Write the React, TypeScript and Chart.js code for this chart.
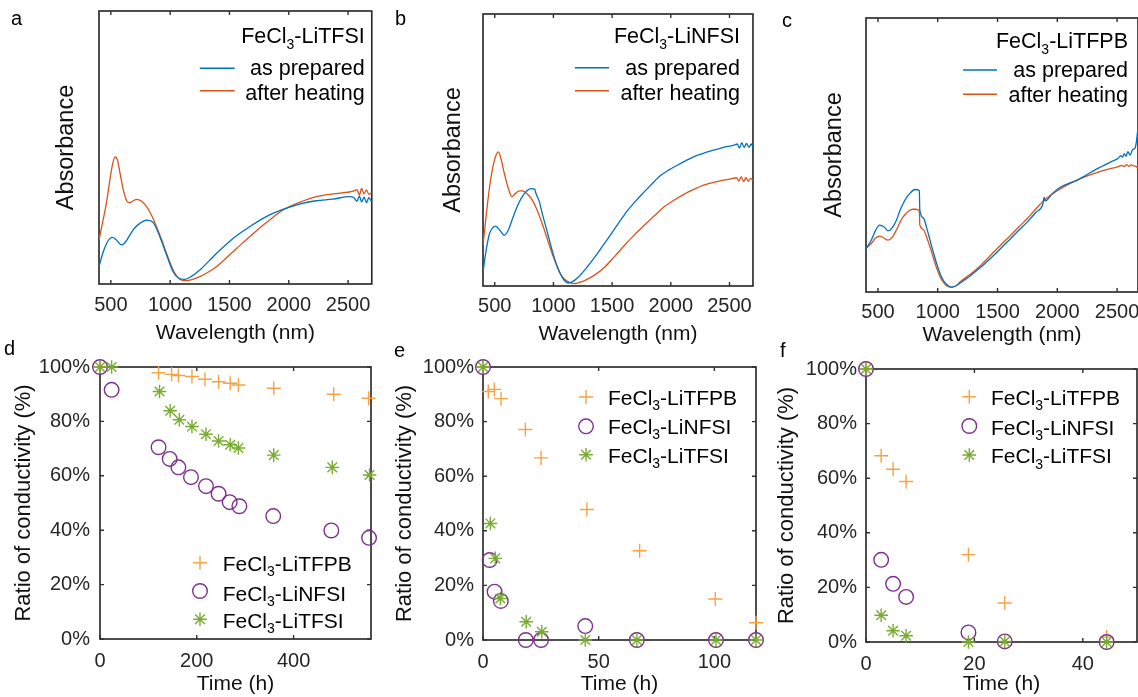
import React, { useEffect, useRef } from "react";
import { Chart, registerables } from "chart.js";
Chart.register(...registerables);

const FONT = '"Liberation Sans", Arial, Helvetica, sans-serif';
Chart.defaults.font.family = FONT;
const AXIS = "#262626";
const BLUE = "#0072BD";
const RED = "#D95319";
const ORANGE = "#F7A244";
const PURPLE = "#7E2F8E";
const GREEN = "#77AC30";

// ---------- tick labels ----------
const wavelengthTicks = [500, 1000, 1500, 2000, 2500];
const percentTicks = [0, 20, 40, 60, 80, 100];
const dTimeTicks = [0, 200, 400];
const eTimeTicks = [0, 50, 100];
const fTimeTicks = [0, 20, 40];

// ---------- panel a : FeCl3-LiTFSI spectra ----------
const aWlPrepared = [400, 430, 465, 495, 515, 545, 591, 620, 661, 700, 745, 801, 857, 913, 970, 1025, 1070, 1124, 1180, 1250, 1390, 1530, 1670, 1811, 1951, 2091, 2232, 2372, 2512, 2550, 2575, 2595, 2615, 2635, 2655, 2675, 2700];
const aAbsPrepared = [0.063, 0.11, 0.149, 0.168, 0.171, 0.162, 0.143, 0.152, 0.18, 0.205, 0.222, 0.234, 0.225, 0.173, 0.106, 0.045, 0.022, 0.017, 0.028, 0.051, 0.112, 0.167, 0.21, 0.247, 0.273, 0.293, 0.305, 0.311, 0.32, 0.316, 0.303, 0.322, 0.301, 0.318, 0.298, 0.316, 0.3];
const aWlHeated = [400, 430, 460, 493, 515, 535, 555, 580, 605, 633, 660, 690, 717, 760, 801, 845, 885, 930, 970, 1025, 1082, 1138, 1190, 1250, 1320, 1390, 1460, 1530, 1600, 1670, 1740, 1811, 1880, 1951, 2091, 2232, 2372, 2512, 2550, 2575, 2595, 2615, 2635, 2655, 2675, 2700];
const aAbsHeated = [0.161, 0.225, 0.29, 0.385, 0.44, 0.466, 0.455, 0.4, 0.345, 0.305, 0.298, 0.305, 0.31, 0.303, 0.283, 0.25, 0.21, 0.16, 0.112, 0.051, 0.017, 0.012, 0.017, 0.027, 0.043, 0.063, 0.09, 0.118, 0.146, 0.173, 0.2, 0.225, 0.249, 0.271, 0.299, 0.32, 0.33, 0.337, 0.341, 0.346, 0.326, 0.35, 0.33, 0.345, 0.328, 0.335];

// ---------- panel b : FeCl3-LiNFSI spectra ----------
const bWlPrepared = [400, 430, 456, 485, 507, 540, 582, 615, 652, 680, 709, 740, 765, 807, 840, 850, 880, 905, 950, 989, 1025, 1059, 1090, 1124, 1160, 1213, 1280, 1354, 1424, 1494, 1564, 1634, 1704, 1774, 1845, 1915, 1985, 2055, 2125, 2195, 2265, 2335, 2405, 2476, 2540, 2565, 2585, 2605, 2625, 2645, 2665, 2685, 2700];
const bAbsPrepared = [0.052, 0.14, 0.193, 0.215, 0.22, 0.207, 0.187, 0.205, 0.248, 0.28, 0.309, 0.332, 0.346, 0.358, 0.356, 0.342, 0.31, 0.266, 0.195, 0.131, 0.08, 0.045, 0.022, 0.011, 0.015, 0.033, 0.066, 0.107, 0.15, 0.193, 0.237, 0.279, 0.314, 0.346, 0.378, 0.407, 0.427, 0.444, 0.46, 0.475, 0.486, 0.496, 0.504, 0.512, 0.518, 0.522, 0.507, 0.527, 0.509, 0.524, 0.51, 0.522, 0.51];
const bWlHeated = [400, 430, 456, 490, 515, 532, 555, 582, 615, 647, 675, 709, 737, 780, 821, 865, 905, 950, 989, 1025, 1059, 1095, 1129, 1171, 1220, 1270, 1350, 1438, 1520, 1606, 1690, 1774, 1860, 1943, 2030, 2111, 2195, 2279, 2365, 2448, 2520, 2560, 2580, 2600, 2620, 2640, 2660, 2680, 2700];
const bAbsHeated = [0.15, 0.27, 0.364, 0.45, 0.485, 0.493, 0.465, 0.413, 0.36, 0.328, 0.34, 0.35, 0.35, 0.337, 0.315, 0.275, 0.229, 0.17, 0.119, 0.078, 0.045, 0.025, 0.015, 0.009, 0.013, 0.021, 0.04, 0.07, 0.108, 0.15, 0.188, 0.223, 0.258, 0.291, 0.316, 0.337, 0.355, 0.371, 0.381, 0.389, 0.395, 0.398, 0.386, 0.402, 0.384, 0.398, 0.385, 0.396, 0.388];

// ---------- panel c : FeCl3-LiTFPB spectra ----------
const cWlPrepared = [400, 444, 480, 514, 550, 584, 620, 654, 685, 711, 740, 767, 809, 846, 850, 880, 907, 935, 963, 990, 1020, 1048, 1076, 1110, 1150, 1188, 1260, 1329, 1400, 1469, 1540, 1610, 1680, 1750, 1820, 1880, 1890, 1900, 1960, 2031, 2100, 2171, 2240, 2312, 2380, 2452, 2510, 2530, 2545, 2560, 2575, 2590, 2610, 2630, 2650, 2662, 2675];
const cAbsPrepared = [0.159, 0.189, 0.225, 0.244, 0.238, 0.223, 0.235, 0.262, 0.298, 0.323, 0.345, 0.36, 0.374, 0.37, 0.3, 0.27, 0.235, 0.19, 0.145, 0.105, 0.067, 0.042, 0.027, 0.018, 0.022, 0.033, 0.055, 0.079, 0.106, 0.134, 0.165, 0.195, 0.226, 0.256, 0.29, 0.322, 0.345, 0.332, 0.36, 0.384, 0.397, 0.409, 0.426, 0.445, 0.46, 0.476, 0.488, 0.498, 0.492, 0.505, 0.495, 0.512, 0.5, 0.52, 0.525, 0.55, 0.6];
const cWlHeated = [400, 444, 480, 514, 550, 584, 620, 654, 685, 711, 750, 790, 815, 846, 850, 880, 907, 935, 963, 990, 1020, 1048, 1076, 1118, 1150, 1188, 1260, 1329, 1400, 1469, 1540, 1610, 1680, 1750, 1820, 1890, 1960, 2031, 2100, 2171, 2240, 2312, 2380, 2452, 2510, 2540, 2560, 2580, 2600, 2620, 2640, 2660, 2675];
const cAbsHeated = [0.159, 0.177, 0.197, 0.204, 0.197, 0.189, 0.2, 0.226, 0.255, 0.274, 0.293, 0.302, 0.302, 0.296, 0.245, 0.228, 0.2, 0.165, 0.125, 0.088, 0.055, 0.035, 0.022, 0.017, 0.022, 0.037, 0.061, 0.085, 0.115, 0.146, 0.177, 0.207, 0.238, 0.268, 0.303, 0.335, 0.358, 0.378, 0.394, 0.409, 0.422, 0.433, 0.443, 0.451, 0.458, 0.462, 0.458, 0.465, 0.459, 0.464, 0.46, 0.458, 0.45];

// ---------- panel d : conductivity ----------
const dTimeTFPB = [0, 121, 148, 162, 190, 217, 245, 269, 286, 359, 483, 555];
const dRatioTFPB = [100, 97.9, 97.3, 96.9, 96.5, 95.5, 94.6, 94.0, 93.4, 92.2, 90.0, 88.5];
const dTimeNFSI = [0, 24, 121, 144, 162, 188, 219, 245, 268, 288, 358, 478, 556];
const dRatioNFSI = [100, 91.6, 70.5, 66.2, 63.1, 59.5, 56.2, 53.4, 50.3, 48.8, 45.2, 39.9, 37.2];
const dTimeTFSI = [0, 24, 123, 145, 164, 190, 219, 245, 269, 286, 359, 480, 557];
const dRatioTFSI = [100, 100, 91.0, 83.9, 80.6, 78.1, 75.3, 72.8, 71.4, 70.2, 67.6, 63.1, 60.3];

// ---------- panel e : conductivity ----------
const eTimeTFPB = [0, 2.3, 4.9, 7.8, 18.3, 25.1, 44.9, 67.7, 100.4, 118];
const eRatioTFPB = [100, 91, 91.8, 88.4, 77.1, 66.7, 47.8, 32.7, 15.0, 6.3];
const eTimeNFSI = [0, 2.9, 5.0, 7.7, 18.5, 25.1, 44.2, 66.5, 100.7, 118];
const eRatioNFSI = [100, 29.3, 17.7, 14.3, 0, 0, 5.1, 0, 0, 0];
const eTimeTFSI = [0, 3.2, 5.3, 7.5, 18.7, 25.4, 44.2, 66.5, 100.7, 118];
const eRatioTFSI = [100, 42.7, 29.9, 15.2, 6.7, 3.0, 0, 0, 0, 0];

// ---------- panel f : conductivity ----------
const fTime = [0, 2.8, 5.0, 7.4, 18.9, 25.6, 44.4];
const fRatioTFPB = [100, 68.2, 63.3, 58.8, 32.0, 14.3, 1.8];
const fRatioNFSI = [100, 30.1, 21.3, 16.5, 3.5, 0.2, 0];
const fRatioTFSI = [100, 9.8, 4.1, 2.3, 0, 0.2, 0];

const zip = (xs: number[], ys: number[]) => xs.map((x, i) => ({ x, y: ys[i] }));

// ---------- helpers ----------
function drawChem(ctx: CanvasRenderingContext2D, text: string, x: number, base: number, align: "left" | "right", size: number) {
  const m = text.match(/^(FeCl)(3)(.*)$/);
  const parts = m ? [{ t: m[1], s: false }, { t: m[2], s: true }, { t: m[3], s: false }] : [{ t: text, s: false }];
  const subSize = Math.round(size * 0.66);
  const widths = parts.map((p) => {
    ctx.font = `${p.s ? subSize : size}px ${FONT}`;
    return ctx.measureText(p.t).width;
  });
  const total = widths.reduce((a, b) => a + b, 0);
  let cx = align === "left" ? x : x - total;
  ctx.textAlign = "left";
  ctx.textBaseline = "alphabetic";
  parts.forEach((p, i) => {
    ctx.font = `${p.s ? subSize : size}px ${FONT}`;
    ctx.fillText(p.t, cx, p.s ? base + size * 0.25 : base);
    cx += widths[i];
  });
}

function framePlugin(withYTicks: boolean) {
  return {
    id: "matlabFrame",
    beforeDatasetsDraw(chart: any) {
      const { ctx, chartArea: ca } = chart;
      const xs = chart.scales.x;
      const ys = chart.scales.y;
      ctx.save();
      ctx.strokeStyle = "#303030";
      ctx.lineWidth = 1.7;
      ctx.strokeRect(ca.left, ca.top, ca.right - ca.left, ca.bottom - ca.top);
      const L = 4;
      ctx.lineWidth = 1.4;
      ctx.beginPath();
      for (const t of xs.ticks) {
        const px = xs.getPixelForValue(t.value);
        ctx.moveTo(px, ca.bottom);
        ctx.lineTo(px, ca.bottom - L);
        ctx.moveTo(px, ca.top);
        ctx.lineTo(px, ca.top + L);
      }
      if (withYTicks) {
        for (const t of ys.ticks) {
          const py = ys.getPixelForValue(t.value);
          ctx.moveTo(ca.left, py);
          ctx.lineTo(ca.left + L, py);
          ctx.moveTo(ca.right, py);
          ctx.lineTo(ca.right - L, py);
        }
      }
      ctx.stroke();
      ctx.restore();
    },
  };
}

type SpecLegend = { title: string; textRight: number; titleBase: number; bases: number[]; lineYs: number[]; lineX1: number; lineX2: number };

function spectrumLegendPlugin(cfg: SpecLegend) {
  return {
    id: "specLegend",
    afterDatasetsDraw(chart: any) {
      const { ctx, chartArea: ca } = chart;
      ctx.save();
      ctx.fillStyle = "#000";
      drawChem(ctx, cfg.title, ca.right + cfg.textRight, ca.top + cfg.titleBase, "right", 21.5);
      chart.data.datasets.forEach((ds: any, i: number) => {
        ctx.strokeStyle = ds.borderColor;
        ctx.lineWidth = 1.4;
        ctx.beginPath();
        ctx.moveTo(ca.right + cfg.lineX1, ca.top + cfg.lineYs[i]);
        ctx.lineTo(ca.right + cfg.lineX2, ca.top + cfg.lineYs[i]);
        ctx.stroke();
        drawChem(ctx, ds.label, ca.right + cfg.textRight, ca.top + cfg.bases[i], "right", 21.5);
      });
      ctx.restore();
    },
  };
}

type CondLegend = { markerX: number; textX: number; markerYs: number[]; bases: number[] };

function drawMarker(ctx: CanvasRenderingContext2D, style: string, x: number, y: number, r: number) {
  ctx.beginPath();
  if (style === "circle") {
    ctx.arc(x, y, r, 0, Math.PI * 2);
  } else {
    ctx.moveTo(x - r, y);
    ctx.lineTo(x + r, y);
    ctx.moveTo(x, y - r);
    ctx.lineTo(x, y + r);
    if (style === "star") {
      const d = r * Math.SQRT1_2;
      ctx.moveTo(x - d, y - d);
      ctx.lineTo(x + d, y + d);
      ctx.moveTo(x - d, y + d);
      ctx.lineTo(x + d, y - d);
    }
  }
  ctx.stroke();
}

function condLegendPlugin(cfg: CondLegend) {
  return {
    id: "condLegend",
    afterDatasetsDraw(chart: any) {
      const { ctx, chartArea: ca } = chart;
      ctx.save();
      chart.data.datasets.forEach((ds: any, i: number) => {
        ctx.strokeStyle = ds.borderColor;
        ctx.lineWidth = ds.borderWidth;
        drawMarker(ctx, ds.pointStyle, ca.left + cfg.markerX, ca.top + cfg.markerYs[i], ds.pointRadius);
        ctx.fillStyle = "#000";
        drawChem(ctx, ds.label, ca.left + cfg.textX, ca.top + cfg.bases[i], "left", 21);
      });
      ctx.restore();
    },
  };
}

type Layout = { padTop: number; padRight: number; yAxisW: number; xAxisH: number; xTickPad: number; xTitlePad: number; yTitlePad: number; yTickPad?: number };

const plain = (v: any) => String(v);

function spectrumConfig(name: string, wl1: number[], y1: number[], wl2: number[], y2: number[], xMax: number, lay: Layout, leg: Omit<SpecLegend, "title">) {
  return {
    type: "line",
    data: {
      datasets: [
        { label: "as prepared", data: zip(wl1, y1), borderColor: BLUE, borderWidth: 1.3, pointRadius: 0, cubicInterpolationMode: "monotone", fill: false },
        { label: "after heating", data: zip(wl2, y2), borderColor: RED, borderWidth: 1.3, pointRadius: 0, cubicInterpolationMode: "monotone", fill: false },
      ],
    },
    options: {
      responsive: false,
      animation: false,
      events: [],
      layout: { padding: { top: lay.padTop, right: lay.padRight, left: 0, bottom: 0 } },
      plugins: { legend: { display: false }, tooltip: { enabled: false } },
      scales: {
        x: {
          type: "linear",
          min: 400,
          max: xMax,
          afterBuildTicks: (s: any) => { s.ticks = wavelengthTicks.map((v) => ({ value: v })); },
          afterFit: (s: any) => { s.height = lay.xAxisH; },
          grid: { display: false, drawTicks: false, tickLength: 0 },
          border: { display: false },
          ticks: { font: { size: 20 }, color: AXIS, padding: lay.xTickPad, maxRotation: 0, autoSkip: false, callback: plain },
          title: { display: true, text: "Wavelength (nm)", font: { size: 21 }, color: "#111", padding: { top: 0, bottom: lay.xTitlePad } },
        },
        y: {
          type: "linear",
          min: 0,
          max: 1,
          afterFit: (s: any) => { s.width = lay.yAxisW; },
          grid: { display: false, drawTicks: false, tickLength: 0 },
          border: { display: false },
          ticks: { display: false },
          title: { display: true, text: "Absorbance", font: { size: 23.5 }, color: "#111", padding: { top: lay.yTitlePad, bottom: 0 } },
        },
      },
    },
    plugins: [framePlugin(false), spectrumLegendPlugin({ title: name, ...leg })],
  };
}

function condConfig(
  tTFPB: number[], rTFPB: number[], tNFSI: number[], rNFSI: number[], tTFSI: number[], rTFSI: number[],
  xMax: number, xTicks: number[], lay: Layout, leg: CondLegend
) {
  const common = { showLine: false, borderWidth: 1.4, backgroundColor: "rgba(0,0,0,0)", clip: false };
  return {
    type: "scatter",
    data: {
      datasets: [
        { ...common, label: "FeCl3-LiTFPB", data: zip(tTFPB, rTFPB), pointStyle: "cross", pointRadius: 7, borderColor: ORANGE, order: 3 },
        { ...common, label: "FeCl3-LiNFSI", data: zip(tNFSI, rNFSI), pointStyle: "circle", pointRadius: 7.3, borderColor: PURPLE, order: 2 },
        { ...common, label: "FeCl3-LiTFSI", data: zip(tTFSI, rTFSI), pointStyle: "star", pointRadius: 6.8, borderColor: GREEN, order: 1 },
      ],
    },
    options: {
      responsive: false,
      animation: false,
      events: [],
      layout: { padding: { top: lay.padTop, right: lay.padRight, left: 0, bottom: 0 } },
      plugins: { legend: { display: false }, tooltip: { enabled: false } },
      scales: {
        x: {
          type: "linear",
          min: 0,
          max: xMax,
          afterBuildTicks: (s: any) => { s.ticks = xTicks.map((v) => ({ value: v })); },
          afterFit: (s: any) => { s.height = lay.xAxisH; },
          grid: { display: false, drawTicks: false, tickLength: 0 },
          border: { display: false },
          ticks: { font: { size: 20 }, color: AXIS, padding: lay.xTickPad, maxRotation: 0, autoSkip: false, callback: plain },
          title: { display: true, text: "Time (h)", font: { size: 21 }, color: "#111", padding: { top: 0, bottom: lay.xTitlePad } },
        },
        y: {
          type: "linear",
          min: 0,
          max: 100,
          afterBuildTicks: (s: any) => { s.ticks = percentTicks.map((v) => ({ value: v })); },
          afterFit: (s: any) => { s.width = lay.yAxisW; },
          grid: { display: false, drawTicks: false, tickLength: 0 },
          border: { display: false },
          ticks: { font: { size: 20 }, color: AXIS, padding: lay.yTickPad ?? 9, autoSkip: false, callback: (v: any) => `${v}%` },
          title: { display: true, text: "Ratio of conductivity (%)", font: { size: 22 }, color: "#111", padding: { top: lay.yTitlePad, bottom: 0 } },
        },
      },
    },
    plugins: [framePlugin(true), condLegendPlugin(leg)],
  };
}

function ChartPanel({ left, top, width, height, make }: { left: number; top: number; width: number; height: number; make: () => any }) {
  const ref = useRef<HTMLCanvasElement>(null);
  useEffect(() => {
    const chart = new Chart(ref.current as HTMLCanvasElement, make());
    return () => chart.destroy();
  }, []);
  return (
    <canvas ref={ref} width={width} height={height} style={{ position: "absolute", left, top, width, height }} />
  );
}

const letters = [
  { t: "a", left: 11, top: 8 },
  { t: "b", left: 395, top: 8 },
  { t: "c", left: 782, top: 10 },
  { t: "d", left: 4, top: 338 },
  { t: "e", left: 394, top: 340 },
  { t: "f", left: 780, top: 340 },
];

export default function App() {
  return (
    <div style={{ position: "fixed", left: 0, top: 0, width: 1138, height: 697, overflow: "hidden", background: "#fff" }}>
      <ChartPanel left={0} top={0} width={380} height={350} make={() =>
        spectrumConfig("FeCl3-LiTFSI", aWlPrepared, aAbsPrepared, aWlHeated, aAbsHeated, 2700,
          { padTop: 11, padRight: 8, yAxisW: 99, xAxisH: 66, xTickPad: 9, xTitlePad: 4.4, yTitlePad: 52.9 },
          { textRight: -7, titleBase: 32.3, bases: [64, 89], lineYs: [57.3, 79.7], lineX1: -172, lineX2: -137 })} />
      <ChartPanel left={380} top={0} width={380} height={350} make={() =>
        spectrumConfig("FeCl3-LiNFSI", bWlPrepared, bAbsPrepared, bWlHeated, bAbsHeated, 2700,
          { padTop: 14, padRight: 3, yAxisW: 103, xAxisH: 64, xTickPad: 8, xTitlePad: 3.4, yTitlePad: 59.4 },
          { textRight: -13, titleBase: 29.3, bases: [61, 86], lineYs: [53.7, 76.7], lineX1: -178, lineX2: -144 })} />
      <ChartPanel left={760} top={0} width={390} height={350} make={() =>
        spectrumConfig("FeCl3-LiTFPB", cWlPrepared, cAbsPrepared, cWlHeated, cAbsHeated, 2675,
          { padTop: 18, padRight: 12, yAxisW: 106, xAxisH: 58, xTickPad: 8.5, xTitlePad: 2.4, yTitlePad: 60.9 },
          { textRight: -10, titleBase: 30.3, bases: [58.7, 83.7], lineYs: [52, 76.3], lineX1: -175, lineX2: -141 })} />
      <ChartPanel left={0} top={345} width={380} height={352} make={() =>
        condConfig(dTimeTFPB, dRatioTFPB, dTimeNFSI, dRatioNFSI, dTimeTFSI, dRatioTFSI, 560, dTimeTicks,
          { padTop: 21, padRight: 9, yAxisW: 100, xAxisH: 58, xTickPad: 10, xTitlePad: 0.4, yTitlePad: 10.8, yTickPad: 10 },
          { markerX: 100, textX: 122.7, markerYs: [195.7, 224, 252.3], bases: [203.5, 233.5, 260.5] })} />
      <ChartPanel left={380} top={345} width={390} height={352} make={() =>
        condConfig(eTimeTFPB, eRatioTFPB, eTimeNFSI, eRatioNFSI, eTimeTFSI, eRatioTFSI, 118, eTimeTicks,
          { padTop: 22, padRight: 14, yAxisW: 103, xAxisH: 57, xTickPad: 10, xTitlePad: 0.4, yTitlePad: 11.8, yTickPad: 9 },
          { markerX: 103, textX: 125, markerYs: [30, 59.3, 87.7], bases: [37.5, 67, 95.5] })} />
      <ChartPanel left={760} top={345} width={390} height={352} make={() =>
        condConfig(fTime, fRatioTFPB, fTime, fRatioNFSI, fTime, fRatioTFSI, 50, fTimeTicks,
          { padTop: 24, padRight: 13, yAxisW: 106, xAxisH: 55, xTickPad: 10, xTitlePad: 0, yTitlePad: 13.8, yTickPad: 9 },
          { markerX: 103.3, textX: 125, markerYs: [27.7, 57, 86], bases: [36, 65.5, 94.3] })} />
      {letters.map((l) => (
        <div key={l.t} style={{ position: "absolute", left: l.left, top: l.top, font: `20px ${FONT}`, lineHeight: "20px", color: "#000" }}>{l.t}</div>
      ))}
    </div>
  );
}
